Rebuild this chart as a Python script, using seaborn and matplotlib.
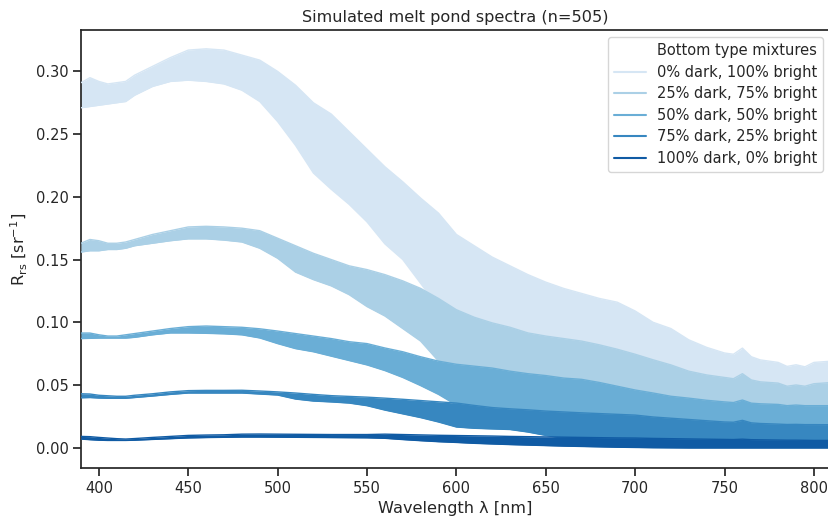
import matplotlib
matplotlib.use("Agg")
import matplotlib.pyplot as plt
from matplotlib.lines import Line2D
import seaborn as sns
import pandas as pd

# wavelength grid [nm]
WL = [390, 395, 400, 405, 410, 415, 420,
      430, 440, 450, 460, 470, 480, 490, 500,
      510, 520, 530, 540, 550, 560, 570, 580, 590, 600,
      610, 620, 630, 640, 650, 660, 670, 680, 690, 700,
      710, 720, 730, 740, 750,
      755, 760, 765, 770,
      780, 785, 790, 795, 800, 810]

# upper / lower envelope of the 101 spectra per bottom type mixture
G0_HI = [0.291, 0.295, 0.292, 0.290, 0.291, 0.292, 0.297,
         0.304, 0.311, 0.317, 0.318, 0.317, 0.313, 0.309, 0.300,
         0.289, 0.275, 0.266, 0.252, 0.238, 0.224, 0.212, 0.199, 0.187, 0.170,
         0.161, 0.152, 0.145, 0.138, 0.132, 0.127, 0.123, 0.119, 0.116, 0.109,
         0.100, 0.095, 0.086, 0.080, 0.0755,
         0.0745, 0.0794, 0.0725, 0.070,
         0.068, 0.0648, 0.0661, 0.0645, 0.068, 0.069]
G0_LO = [0.271, 0.272, 0.273, 0.274, 0.275, 0.276, 0.281,
         0.288, 0.292, 0.293, 0.292, 0.290, 0.285, 0.276, 0.260,
         0.241, 0.219, 0.206, 0.194, 0.180, 0.1625, 0.150, 0.131, 0.112, 0.100,
         0.096, 0.0915, 0.088, 0.0835, 0.081, 0.079, 0.077, 0.074, 0.0705, 0.0665,
         0.062, 0.058, 0.053, 0.050, 0.048,
         0.047, 0.051, 0.046, 0.0445,
         0.0435, 0.041, 0.042, 0.041, 0.043, 0.044]

G1_HI = [0.163, 0.166, 0.165, 0.163, 0.163, 0.164, 0.166,
         0.170, 0.173, 0.176, 0.1765, 0.176, 0.175, 0.173, 0.167,
         0.161, 0.155, 0.150, 0.145, 0.142, 0.138, 0.133, 0.127, 0.119, 0.110,
         0.104, 0.0995, 0.096, 0.0915, 0.089, 0.087, 0.085, 0.082, 0.0785, 0.0745,
         0.0701, 0.066, 0.061, 0.058, 0.056,
         0.055, 0.059, 0.054, 0.0525,
         0.0515, 0.049, 0.050, 0.049, 0.051, 0.052]
G1_LO = [0.156, 0.157, 0.157, 0.158, 0.158, 0.159, 0.161,
         0.163, 0.165, 0.1665, 0.1665, 0.1655, 0.164, 0.159, 0.151,
         0.140, 0.134, 0.129, 0.122, 0.1125, 0.105, 0.095, 0.085, 0.069, 0.061,
         0.060, 0.0585, 0.056, 0.054, 0.0525, 0.0505, 0.0495, 0.047, 0.044, 0.041,
         0.0386, 0.036, 0.0345, 0.0328, 0.0315,
         0.031, 0.033, 0.0305, 0.030,
         0.0295, 0.0285, 0.029, 0.0285, 0.0285, 0.0285]

G2_HI = [0.0914, 0.0914, 0.090, 0.089, 0.089, 0.090, 0.091,
         0.093, 0.095, 0.0965, 0.097, 0.0965, 0.096, 0.0948, 0.093,
         0.091, 0.089, 0.087, 0.0845, 0.083, 0.0795, 0.0765, 0.0725, 0.069, 0.0665,
         0.065, 0.0635, 0.061, 0.059, 0.0575, 0.0555, 0.0545, 0.052, 0.049, 0.046,
         0.0436, 0.041, 0.0395, 0.0378, 0.0365,
         0.036, 0.038, 0.0355, 0.035,
         0.0345, 0.0335, 0.034, 0.0335, 0.0335, 0.0335]
G2_LO = [0.087, 0.0872, 0.0874, 0.0874, 0.0874, 0.0874, 0.088,
         0.090, 0.0915, 0.0915, 0.0912, 0.0908, 0.090, 0.0875, 0.083,
         0.079, 0.0765, 0.073, 0.0695, 0.066, 0.0615, 0.056, 0.0495, 0.0425, 0.034,
         0.0297, 0.028, 0.027, 0.0262, 0.0252, 0.0245, 0.0238, 0.0232, 0.0226, 0.022,
         0.0205, 0.0195, 0.0185, 0.0175, 0.0165,
         0.016, 0.0175, 0.0158, 0.0153,
         0.0148, 0.0145, 0.0146, 0.0144, 0.0144, 0.0143]

G3_HI = [0.043, 0.0428, 0.0418, 0.0414, 0.041, 0.041, 0.0418,
         0.043, 0.0445, 0.0455, 0.0457, 0.0457, 0.0458, 0.0452, 0.0445,
         0.0436, 0.0425, 0.0415, 0.0409, 0.0403, 0.0395, 0.0386, 0.0376, 0.0366, 0.0356,
         0.0337, 0.032, 0.031, 0.0302, 0.0292, 0.0285, 0.0278, 0.0272, 0.0266, 0.026,
         0.0245, 0.0235, 0.0225, 0.0215, 0.0205,
         0.0203, 0.0218, 0.0198, 0.0193,
         0.0188, 0.0185, 0.0186, 0.0184, 0.0184, 0.0183]
G3_LO = [0.0398, 0.040, 0.0396, 0.0394, 0.0394, 0.0394, 0.040,
         0.0412, 0.0425, 0.0436, 0.0436, 0.0436, 0.0436, 0.0428, 0.042,
         0.0388, 0.0372, 0.0365, 0.0356, 0.0335, 0.030, 0.027, 0.024, 0.0205, 0.0165,
         0.0155, 0.015, 0.0145, 0.0125, 0.0098, 0.0075, 0.0072, 0.007, 0.0068, 0.0066,
         0.0064, 0.0062, 0.006, 0.0058, 0.0056,
         0.0055, 0.0056, 0.0054, 0.0053,
         0.0052, 0.0051, 0.0051, 0.005, 0.005, 0.005]

G4_HI = [0.009, 0.0088, 0.0082, 0.0077, 0.0072, 0.0069, 0.0073,
         0.0082, 0.009, 0.0098, 0.0101, 0.0103, 0.0108, 0.0109, 0.0108,
         0.0107, 0.0106, 0.0105, 0.0105, 0.0105, 0.0108, 0.0105, 0.0102, 0.0099, 0.0097,
         0.0095, 0.0093, 0.009, 0.0088, 0.0086, 0.0084, 0.0082, 0.008, 0.0078, 0.0077,
         0.0074, 0.0072, 0.007, 0.0068, 0.0066,
         0.0065, 0.0068, 0.0064, 0.0063,
         0.0061, 0.006, 0.006, 0.0059, 0.0058, 0.0058]
G4_LO = [0.0069, 0.0064, 0.006, 0.0058, 0.0058, 0.0058, 0.006,
         0.0066, 0.0072, 0.0078, 0.0081, 0.0083, 0.0085, 0.0085, 0.0084,
         0.0083, 0.0082, 0.0081, 0.008, 0.0079, 0.0075, 0.0065, 0.0056, 0.0048, 0.0042,
         0.0035, 0.003, 0.0025, 0.0021, 0.0017, 0.0013, 0.001, 0.0007, 0.0004, 0.0002,
         0.0, -0.0001, -0.0002, -0.0002, -0.0002,
         -0.0002, -0.0002, -0.0002, -0.0002,
         -0.0002, -0.0002, -0.0002, -0.0002, -0.0002, -0.0002]

MIXTURES = ["0% dark, 100% bright", "25% dark, 75% bright", "50% dark, 50% bright",
            "75% dark, 25% bright", "100% dark, 0% bright"]
UPPER = [G0_HI, G1_HI, G2_HI, G3_HI, G4_HI]
LOWER = [G0_LO, G1_LO, G2_LO, G3_LO, G4_LO]

sns.set_style("ticks")
plt.rcParams["font.family"] = ["DejaVu Sans"]
plt.rcParams["axes.linewidth"] = 1.25
plt.rcParams["xtick.major.width"] = 1.25
plt.rcParams["ytick.major.width"] = 1.25
plt.rcParams["xtick.major.size"] = 5.5
plt.rcParams["ytick.major.size"] = 5.5

colors = sns.color_palette("Blues", len(MIXTURES))

fig = plt.figure(figsize=(8.29, 5.22), dpi=100)
ax = fig.add_axes([0.0977, 0.1034, 0.9035, 0.8391])

# long table: one row per wavelength, mixture and envelope side
rows = []
for name, hi, lo in zip(MIXTURES, UPPER, LOWER):
    for w, a, b in zip(WL, hi, lo):
        rows.append({"wl": w, "mix": name, "bound": "upper", "rrs": a})
        rows.append({"wl": w, "mix": name, "bound": "lower", "rrs": b})
df = pd.DataFrame(rows)

# draw mixtures in order so darker bottoms lie on top
for i, name in enumerate(MIXTURES):
    sub = df[df["mix"] == name]
    hi = sub[sub["bound"] == "upper"]
    lo = sub[sub["bound"] == "lower"]
    ax.fill_between(hi["wl"].values, lo["rrs"].values, hi["rrs"].values,
                    color=colors[i], lw=0, zorder=2 + 2 * i)
    sns.lineplot(data=sub, x="wl", y="rrs", units="bound", estimator=None,
                 color=colors[i], lw=1.0, ax=ax, legend=False, zorder=3 + 2 * i)

ax.set_xlim(390, 809)
ax.set_ylim(-0.0162, 0.333)
ax.set_xticks([400, 450, 500, 550, 600, 650, 700, 750, 800])
ax.set_yticks([0.0, 0.05, 0.10, 0.15, 0.20, 0.25, 0.30])
ax.tick_params(labelsize=10.5)

ax.set_title("Simulated melt pond spectra (n=505)", fontsize=11.6)
ax.set_xlabel("Wavelength λ [nm]", fontsize=11.6)
ax.set_ylabel("R$_{\\rm rs}$ [sr$^{-1}$]", fontsize=11.6)

handles = [Line2D([], [], color="white", alpha=0)]
handles += [Line2D([], [], color=c, lw=1.5) for c in colors]
labels = ["Bottom type mixtures"] + MIXTURES
ax.legend(handles, labels, loc="upper right", fontsize=10.5, frameon=True,
          handlelength=2.2, handletextpad=0.75, labelspacing=0.45,
          borderaxespad=0.5)

fig.savefig("out.png", dpi=100)
